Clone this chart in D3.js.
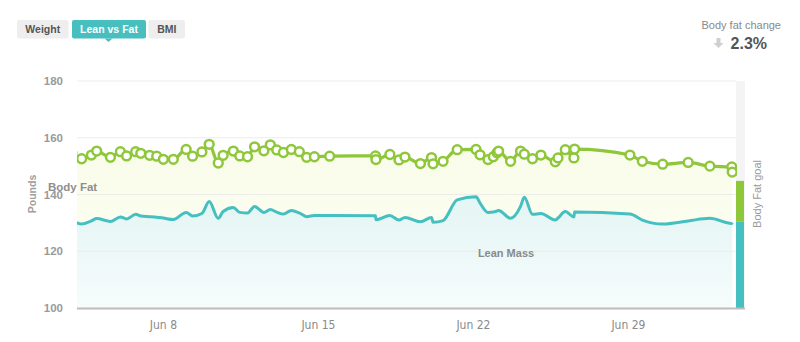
<!DOCTYPE html>
<html>
<head>
<meta charset="utf-8">
<script src="https://cdn.jsdelivr.net/npm/d3@7"></script>
<style>
  html, body { margin: 0; padding: 0; background: #fff; }
  svg { display: block; font-family: "Liberation Sans", Arial, sans-serif; }
</style>
</head>
<body>
<svg id="chart" width="800" height="342"></svg>
<script>
// ---- data (day of June; July days continue as 31+) ----
const days = [3.89,4.33,4.77,5.01,5.63,6.08,6.36,6.77,7.00,7.40,7.72,8.02,8.47,9.05,9.34,9.76,10.09,10.50,10.72,11.18,11.47,11.82,12.14,12.56,12.85,13.14,13.44,13.80,14.16,14.49,14.84,15.53,17.60,17.62,18.25,18.66,18.93,19.63,20.13,20.20,20.65,21.29,22.14,22.32,22.68,22.92,23.09,23.16,23.70,24.15,24.32,24.69,25.07,25.72,25.84,26.17,26.56,26.59,29.09,29.65,30.57,31.72,32.70,33.69,33.71];
const totalLbs = [154.6,152.6,153.9,155.3,153.1,155.1,153.6,155.1,154.5,153.8,153.5,152.4,152.4,155.9,153.5,155.0,157.7,151.1,153.8,155.3,153.6,153.3,156.8,155.4,157.5,155.7,154.8,155.9,155.1,153.1,153.3,153.5,153.6,152.3,154.1,152.2,153.2,150.9,153.0,150.8,151.7,155.8,155.9,154.0,152.3,153.3,154.7,155.3,151.7,155.3,154.2,152.6,153.9,151.5,152.9,155.8,152.9,156.0,153.9,151.7,150.7,151.3,150.0,149.7,147.9];
const leanLbs = [130.8,129.6,130.7,131.5,130.5,132.1,131.4,133.0,132.4,132.2,132.0,131.7,131.2,133.7,132.4,133.3,137.5,131.6,134.0,135.4,133.7,133.5,135.8,133.7,134.7,133.8,133.1,134.4,133.5,132.2,132.6,132.6,132.5,131.1,132.6,131.0,131.9,130.4,131.9,130.2,130.8,138.1,139.2,137.0,133.7,133.8,134.2,134.4,131.6,135.8,139.0,133.0,133.3,131.0,131.7,134.0,132.1,133.8,133.1,131.0,129.6,130.7,131.6,129.8,130.1];
const xTickDays = [8, 15, 22, 29];
const xTickLabels = ["Jun 8", "Jun 15", "Jun 22", "Jun 29"];
const yTicks = [100, 120, 140, 160, 180];
const goalLean = 130.4;
const goalTotal = 144.8;
const tabs = ["Weight", "Lean vs Fat", "BMI"];
const fatChange = "2.3%";

const data = days.map((d, i) => ({ d, total: totalLbs[i], lean: leanLbs[i] }));

const svg = d3.select("#chart");
const L = 77, R = 736, T = 81, B = 308;

const x = d3.scaleLinear().domain([4.12, 33.88]).range([L, R]);
const y = d3.scaleLinear().domain([100, 180]).range([B, T]);

const defs = svg.append("defs");
defs.append("clipPath").attr("id", "plotclip")
  .append("rect").attr("x", L).attr("y", T - 10).attr("width", R - L + 1).attr("height", B - T + 10);

const gFat = defs.append("linearGradient").attr("id", "fatGrad").attr("x1", 0).attr("x2", 0).attr("y1", 0).attr("y2", 1);
gFat.append("stop").attr("offset", "0%").attr("stop-color", "#f9fce9");
gFat.append("stop").attr("offset", "100%").attr("stop-color", "#fdfef6");
const gLean = defs.append("linearGradient").attr("id", "leanGrad").attr("x1", 0).attr("x2", 0).attr("y1", 0).attr("y2", 1);
gLean.append("stop").attr("offset", "0%").attr("stop-color", "#e3f5f4");
gLean.append("stop").attr("offset", "100%").attr("stop-color", "#f6fcfc");

// right goal strip background
svg.append("rect").attr("x", R).attr("y", T).attr("width", 9).attr("height", B - T).attr("fill", "#f4f4f4");

const plot = svg.append("g").attr("clip-path", "url(#plotclip)");
const curve = d3.curveMonotoneX;

// fills
plot.append("path").datum(data)
  .attr("d", d3.area().curve(curve).x(p => x(p.d)).y0(y(100)).y1(p => y(p.total)))
  .attr("fill", "url(#fatGrad)");
plot.append("path").datum(data)
  .attr("d", d3.area().curve(curve).x(p => x(p.d)).y0(y(100)).y1(p => y(p.lean)))
  .attr("fill", "url(#leanGrad)");

// grid lines
svg.append("g").selectAll("line").data(yTicks.filter(v => v > 100)).join("line")
  .attr("x1", L).attr("x2", R).attr("y1", v => y(v)).attr("y2", v => y(v))
  .attr("stroke", "#e6e6e6").attr("stroke-opacity", 0.7).attr("stroke-width", 1);

// lines
plot.append("path").datum(data)
  .attr("d", d3.line().curve(curve).x(p => x(p.d)).y(p => y(p.lean)))
  .attr("fill", "none").attr("stroke", "#45bfc0").attr("stroke-width", 3).attr("stroke-linejoin", "round");
plot.append("path").datum(data)
  .attr("d", d3.line().curve(curve).x(p => x(p.d)).y(p => y(p.total)))
  .attr("fill", "none").attr("stroke", "#8fc73a").attr("stroke-width", 3.2).attr("stroke-linejoin", "round");
plot.append("g").selectAll("circle").data(data).join("circle")
  .attr("cx", p => x(p.d)).attr("cy", p => y(p.total)).attr("r", 4.4)
  .attr("fill", "#fff").attr("stroke", "#8fc73a").attr("stroke-width", 2.5);

// goal bar
svg.append("rect").attr("x", R).attr("y", y(goalTotal)).attr("width", 8).attr("height", y(goalLean) - y(goalTotal)).attr("fill", "#8fc73a");
svg.append("rect").attr("x", R).attr("y", y(goalLean)).attr("width", 8).attr("height", y(100) - y(goalLean)).attr("fill", "#45bfc0");

// bottom baseline
svg.append("line").attr("x1", L).attr("x2", R + 9).attr("y1", B + 0.5).attr("y2", B + 0.5)
  .attr("stroke", "#bdbdbd").attr("stroke-width", 2);

// axes
const xAxis = svg.append("g").attr("transform", `translate(0,${B + 9})`)
  .call(d3.axisBottom(x).tickValues(xTickDays).tickFormat((d, i) => xTickLabels[i]).tickSize(0));
xAxis.select(".domain").remove();
xAxis.selectAll("text").attr("fill", "#8a8a8a")
  .style("font-family", "'Liberation Sans Narrow', 'DejaVu Sans Condensed', sans-serif")
  .style("font-size", "12px");

const yAxis = svg.append("g").attr("transform", `translate(${L - 14},0)`)
  .call(d3.axisLeft(y).tickValues(yTicks).tickSize(0).tickPadding(0));
yAxis.select(".domain").remove();
yAxis.selectAll("text").attr("fill", "#9a9a9a").style("font-size", "11.5px").style("font-weight", "bold");

// axis title
svg.append("text").attr("transform", "translate(36,194) rotate(-90)").attr("text-anchor", "middle")
  .attr("fill", "#a0a0a0").style("font-size", "10.5px").style("font-weight", "bold").text("Pounds");

// series labels
svg.append("text").attr("x", 48).attr("y", 191).attr("fill", "#8e8e8e")
  .style("font-size", "11.5px").style("font-weight", "bold").text("Body Fat");
svg.append("text").attr("x", 506).attr("y", 257).attr("text-anchor", "middle").attr("fill", "#8a8a8a")
  .style("font-size", "11px").style("font-weight", "bold").text("Lean Mass");

// goal label
svg.append("text").attr("transform", "translate(761,194) rotate(-90)").attr("text-anchor", "middle")
  .attr("fill", "#9a9a9a").style("font-size", "11px").text("Body Fat goal");

// tabs
const tabX = [17, 72, 148.5], tabW = [51.5, 74, 36.5];
tabs.forEach((t, i) => {
  const active = i === 1;
  svg.append("rect").attr("x", tabX[i]).attr("y", 20).attr("width", tabW[i]).attr("height", 18.5)
    .attr("rx", 2).attr("fill", active ? "#48bfbf" : "#eeeeee");
  svg.append("text").attr("x", tabX[i] + tabW[i] / 2).attr("y", 33).attr("text-anchor", "middle")
    .attr("fill", active ? "#ffffff" : "#555555").style("font-size", "10.5px").style("font-weight", "bold").text(t);
});
svg.append("path").attr("d", "M104.5,38.5 L108.5,42 L112.5,38.5 Z").attr("fill", "#48bfbf");

// body fat change
svg.append("text").attr("x", 781).attr("y", 29).attr("text-anchor", "end").attr("fill", "#8a8a8a")
  .style("font-size", "11px").text("Body fat change");
svg.append("text").attr("x", 767).attr("y", 49).attr("text-anchor", "end").attr("fill", "#555")
  .style("font-size", "16px").style("font-weight", "bold").text(fatChange);
svg.append("path").attr("d", "M716.5,38 L720.5,38 L720.5,43 L723.5,43 L718.5,48 L713.5,43 L716.5,43 Z").attr("fill", "#cfcfcf");
</script>
</body>
</html>
